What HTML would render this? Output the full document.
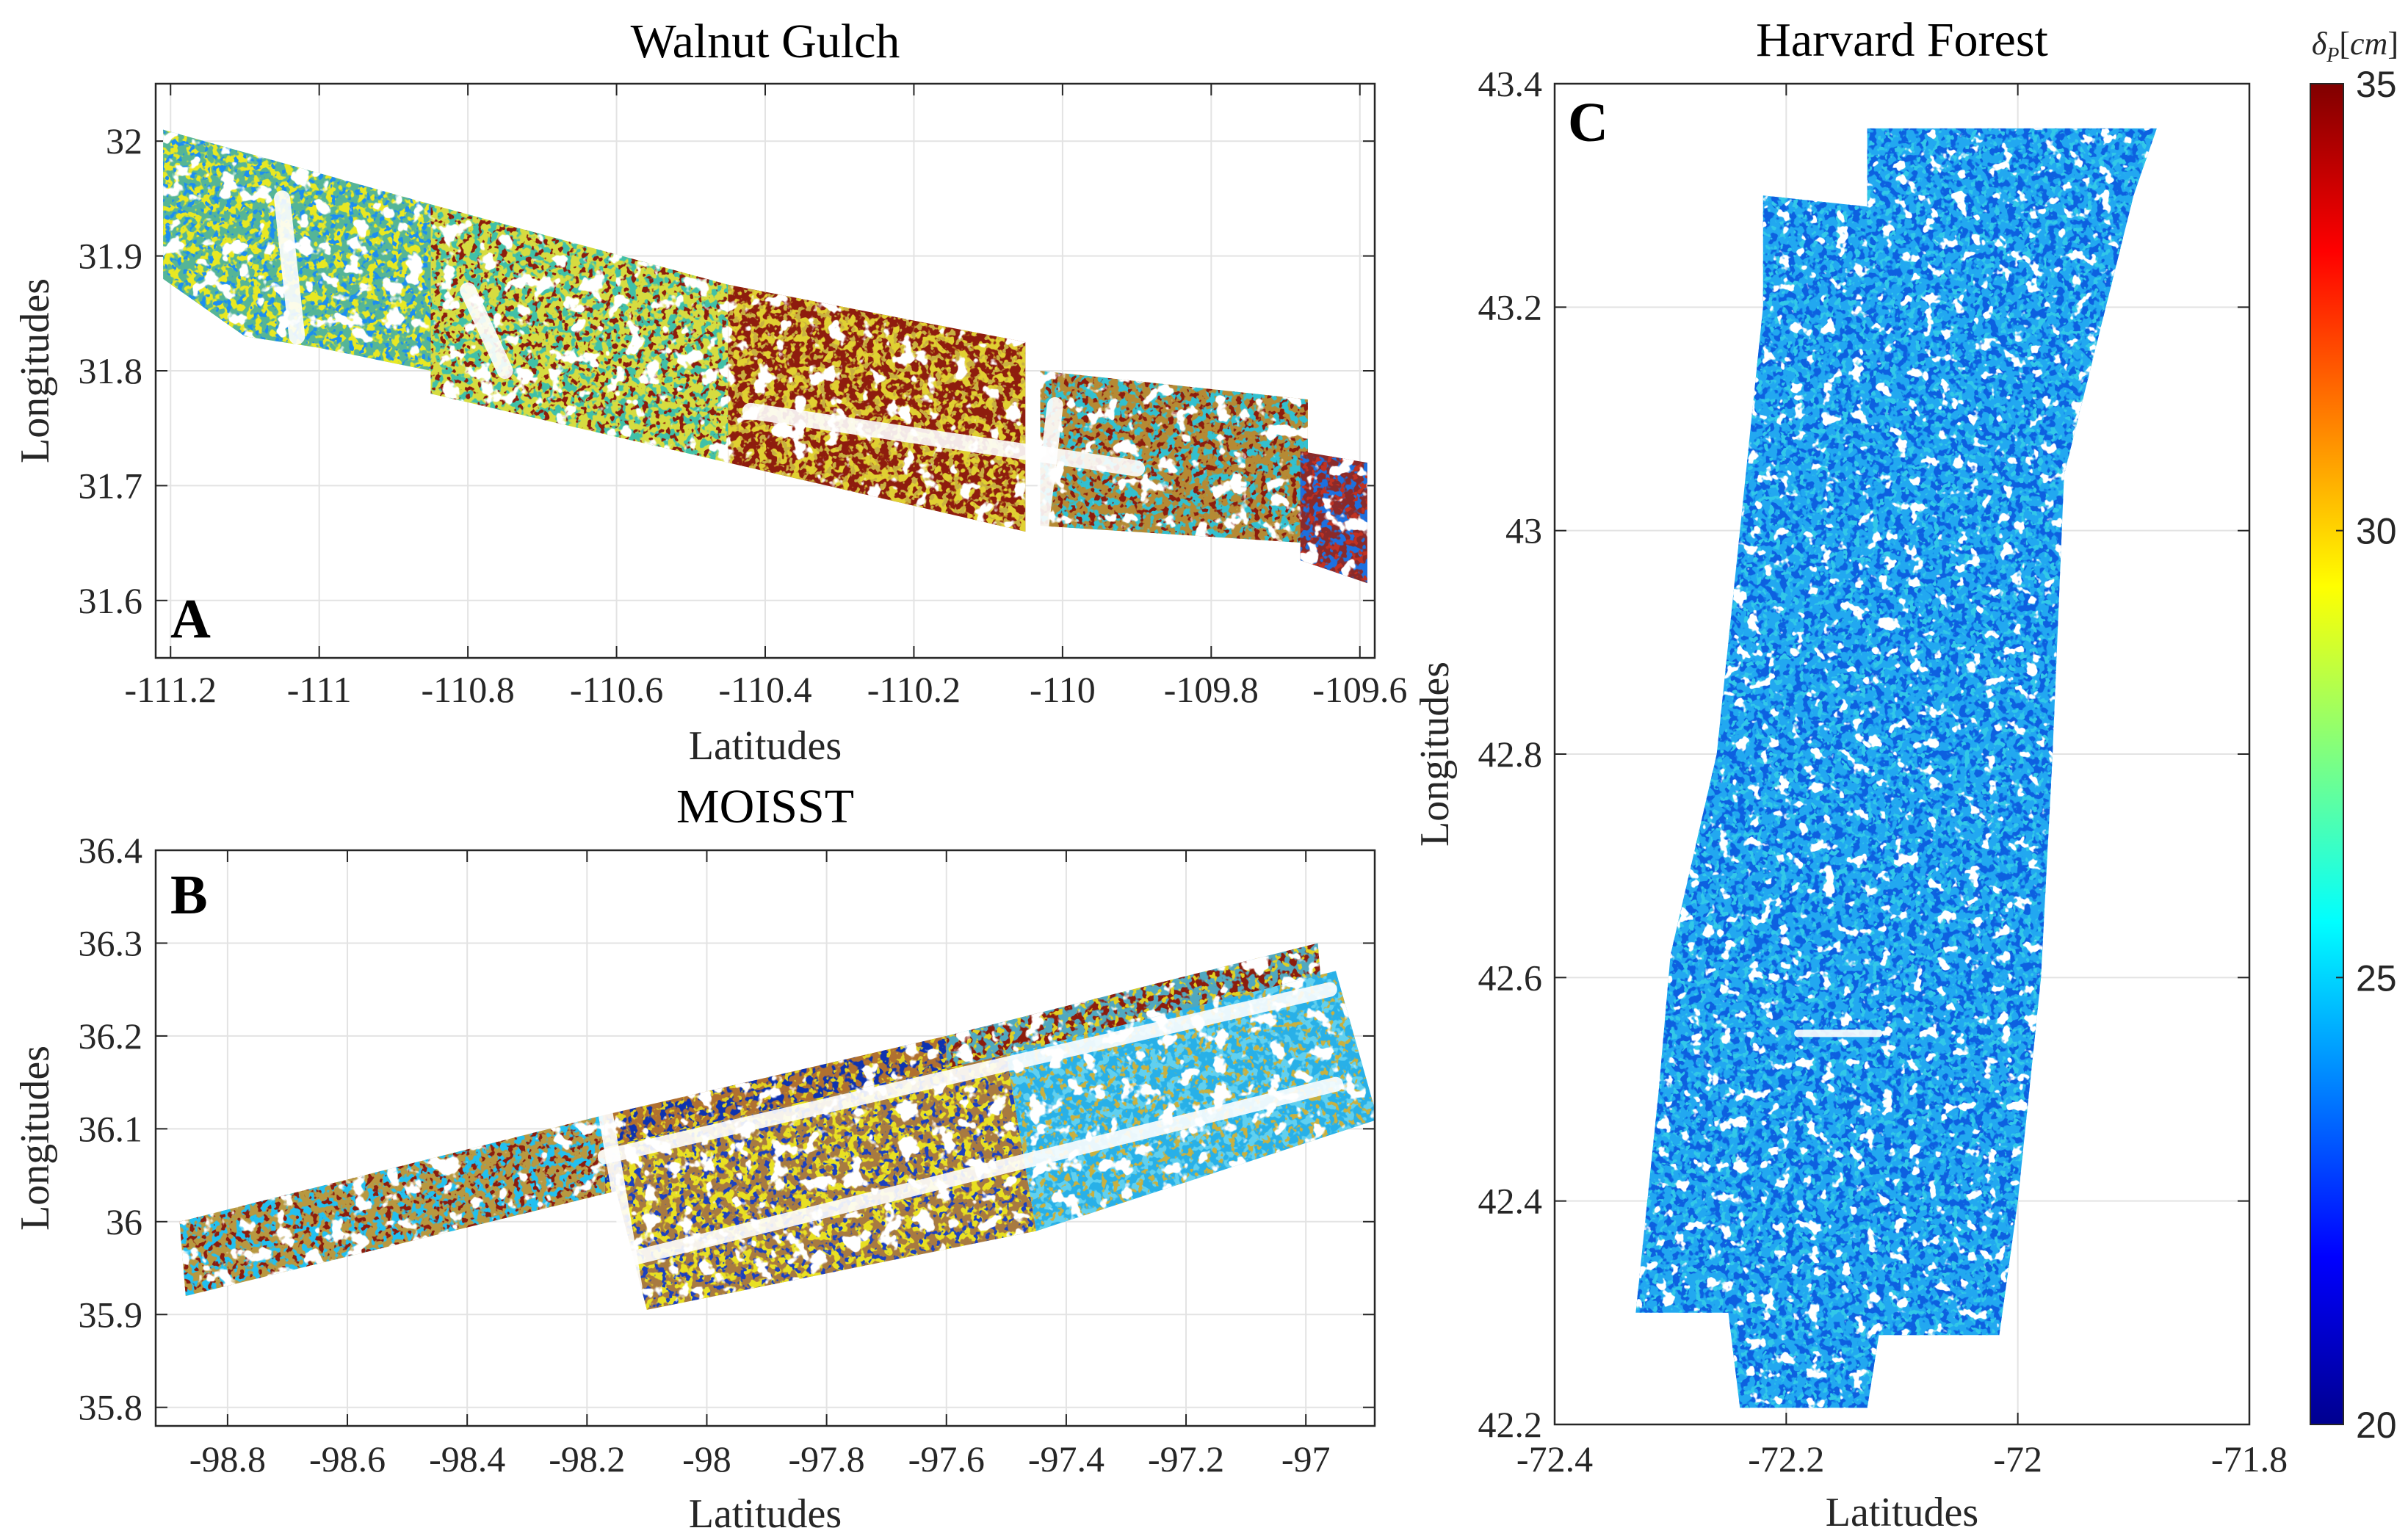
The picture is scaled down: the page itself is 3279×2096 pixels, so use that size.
<!DOCTYPE html>
<html><head><meta charset="utf-8"><style>
html,body{margin:0;padding:0;background:#fff}
svg{display:block}
.tk{font-family:"Liberation Serif",serif;font-size:50px;fill:#262626}
.ttl{font-family:"Liberation Serif",serif;font-size:66px;fill:#000}
.lab{font-family:"Liberation Serif",serif;font-size:56px;fill:#262626}
.let{font-family:"Liberation Serif",serif;font-size:76px;font-weight:bold;fill:#000}
.cb{font-family:"Liberation Sans",sans-serif;font-size:50px;fill:#262626}
</style></head><body>
<svg id="fig" width="3279" height="2096" viewBox="0 0 3279 2096" xmlns="http://www.w3.org/2000/svg">
<defs>
<filter id="sp1" filterUnits="userSpaceOnUse" x="0" y="0" width="3279" height="2096"><feTurbulence type="fractalNoise" baseFrequency="0.09" numOctaves="2" seed="3" result="n"/><feColorMatrix in="n" type="matrix" values="0 0 0 0 0 0 0 0 0 0 0 0 0 0 0 14 0 0 0 -7" result="m"/><feComposite in="SourceGraphic" in2="m" operator="in"/></filter>
<filter id="sp2" filterUnits="userSpaceOnUse" x="0" y="0" width="3279" height="2096"><feTurbulence type="fractalNoise" baseFrequency="0.12" numOctaves="2" seed="9" result="n"/><feColorMatrix in="n" type="matrix" values="0 0 0 0 0 0 0 0 0 0 0 0 0 0 0 14 0 0 0 -8" result="m"/><feComposite in="SourceGraphic" in2="m" operator="in"/></filter>
<filter id="hol" filterUnits="userSpaceOnUse" x="0" y="0" width="3279" height="2096"><feTurbulence type="fractalNoise" baseFrequency="0.04" numOctaves="3" seed="17" result="n"/><feColorMatrix in="n" type="matrix" values="0 0 0 0 0 0 0 0 0 0 0 0 0 0 0 16 0 0 0 -9.6" result="m"/><feComposite in="SourceGraphic" in2="m" operator="in"/></filter>
<filter id="hol2" filterUnits="userSpaceOnUse" x="0" y="0" width="3279" height="2096"><feTurbulence type="fractalNoise" baseFrequency="0.05" numOctaves="3" seed="23" result="n"/><feColorMatrix in="n" type="matrix" values="0 0 0 0 0 0 0 0 0 0 0 0 0 0 0 18 0 0 0 -11.5" result="m"/><feComposite in="SourceGraphic" in2="m" operator="in"/></filter>
<linearGradient id="jet" x1="0" y1="0" x2="0" y2="1">
<stop offset="0" stop-color="#800000"/><stop offset="0.125" stop-color="#ff0000"/><stop offset="0.375" stop-color="#ffff00"/><stop offset="0.625" stop-color="#00ffff"/><stop offset="0.875" stop-color="#0000ff"/><stop offset="1" stop-color="#00008f"/>
</linearGradient>
</defs>
</svg>
<script>
// ---------- data ----------
const aXTicks=[-111.2,-111,-110.8,-110.6,-110.4,-110.2,-110,-109.8,-109.6];
const aYTicks=[31.6,31.7,31.8,31.9,32];
const bXTicks=[-98.8,-98.6,-98.4,-98.2,-98,-97.8,-97.6,-97.4,-97.2,-97];
const bYTicks=[35.8,35.9,36,36.1,36.2,36.3,36.4];
const cXTicks=[-72.4,-72.2,-72,-71.8];
const cYTicks=[42.2,42.4,42.6,42.8,43,43.2,43.4];
const cbTicks=[20,25,30,35];
const aPatches=[
 [[-111.21,32.01],[-110.85,31.945],[-110.85,31.80],[-111.0,31.82],[-111.1,31.83],[-111.21,31.88]],
 [[-110.85,31.945],[-110.45,31.875],[-110.45,31.72],[-110.85,31.78]],
 [[-110.45,31.875],[-110.05,31.825],[-110.05,31.66],[-110.45,31.72]],
 [[-110.03,31.80],[-109.67,31.775],[-109.67,31.65],[-110.03,31.665]],
 [[-109.68,31.73],[-109.59,31.72],[-109.59,31.615],[-109.68,31.635]]];
const aBase=["#55b597","#d6dc40","#8e1c0e","#b58a34","#8a2a2a"];
const aSp1=["#e8e820","#40c0a8","#e0d030","#30c0d0","#1a70e0"];
const aSp2=["#1a8ef0","#8c1a10","#c8b040","#8c1a10","#c03020"];
const aGaps=[[[-110.03,31.66],[-110.01,31.77]],[[-110.42,31.765],[-109.9,31.715]],[[-111.05,31.95],[-111.03,31.83]],[[-110.8,31.87],[-110.75,31.80]]];
const bPatches=[
 [[-98.88,36.0],[-98.17,36.115],[-98.17,36.03],[-98.87,35.92]],
 [[-98.17,36.115],[-97.6,36.20],[-97.6,36.12],[-98.17,36.03]],
 [[-97.6,36.20],[-96.98,36.30],[-96.97,36.22],[-97.6,36.12]],
 [[-98.17,36.08],[-97.5,36.18],[-97.45,35.99],[-98.1,35.905]],
 [[-97.5,36.18],[-96.95,36.27],[-96.88,36.11],[-97.45,35.99]]];
const bBase=["#b89840","#b07030","#50a8c0","#a87a40","#28b0e8"];
const bSp1=["#20c0f0","#1030b0","#8c1a10","#e8e020","#60d0f0"];
const bSp2=["#8c1a10","#e0d020","#e0d020","#1a40c0","#c8b040"];
const bGaps=[[[-98.17,36.07],[-96.96,36.25]],[[-98.14,35.958],[-96.95,36.148]],[[-98.17,36.12],[-98.12,35.93]]];
const cPatches=[
 [[-72.13,43.36],[-71.88,43.36],[-71.90,43.30],[-71.96,43.05],[-71.97,42.8],[-71.98,42.6],[-72.0,42.4],[-72.016,42.28],[-72.12,42.28],[-72.13,42.215],[-72.24,42.215],[-72.25,42.30],[-72.33,42.30],[-72.31,42.5],[-72.3,42.62],[-72.26,42.8],[-72.24,43.0],[-72.22,43.2],[-72.22,43.30],[-72.13,43.29]]];
const cBase=["#22a8f0"];
const cSp1=["#0a60e0"];
const cSp2=["#30c8e8"];
const cGaps=[[[-72.19,42.55],[-72.12,42.55]]];

// ---------- helpers ----------
const NS="http://www.w3.org/2000/svg";
const svg=document.getElementById('fig');
function mk(tag,attrs,parent){const e=document.createElementNS(NS,tag);for(const k in attrs)e.setAttribute(k,attrs[k]);(parent||svg).appendChild(e);return e;}
function panel(cfg){
 const {L,R,T,B,x0,x1,y0,y1}=cfg;
 const sx=v=>L+(v-x0)/(x1-x0)*(R-L);
 const sy=v=>B-(v-y0)/(y1-y0)*(B-T);
 const g=mk('g',{});
 
 
 mk('rect',{x:L,y:T,width:R-L,height:B-T,fill:'#fff'},g);
 cfg.xt.forEach(v=>{const x=sx(v);
  const gl=mk('line',{x1:x,y1:T,x2:x,y2:B,stroke:'#e3e3e3','stroke-width':2},g);
  
  
  mk('line',{x1:x,y1:B,x2:x,y2:B-16,stroke:'#262626','stroke-width':2},g);
  mk('line',{x1:x,y1:T,x2:x,y2:T+16,stroke:'#262626','stroke-width':2},g);
  const t=mk('text',{x:x,y:cfg.xly,'text-anchor':'middle','class':'tk'},g);t.textContent=String(v);
  
  });
 cfg.yt.forEach(v=>{const y=sy(v);
  const gl=mk('line',{x1:L,y1:y,x2:R,y2:y,stroke:'#e3e3e3','stroke-width':2},g);
  
  
  mk('line',{x1:L,y1:y,x2:L+16,y2:y,stroke:'#262626','stroke-width':2},g);
  mk('line',{x1:R,y1:y,x2:R-16,y2:y,stroke:'#262626','stroke-width':2},g);
  const t=mk('text',{x:cfg.ylx,y:y+17,'text-anchor':'end','class':'tk'},g);t.textContent=String(v);
  
  });
 const cid='clip'+cfg.name;
 const cp=mk('clipPath',{id:cid},g);mk('rect',{x:L,y:T,width:R-L,height:B-T},cp);
 const dg=mk('g',{'clip-path':'url(#'+cid+')'},g);
 const pts=p=>p.map(q=>sx(q[0]).toFixed(1)+','+sy(q[1]).toFixed(1)).join(' ');
 cfg.patches.forEach((p,i)=>{
  const a=mk('polygon',{points:pts(p),fill:cfg.base[i]},dg);
  
  
  mk('polygon',{points:pts(p),fill:cfg.sp1[i],filter:'url(#sp1)'},dg);
  mk('polygon',{points:pts(p),fill:cfg.sp2[i],filter:'url(#sp2)'},dg);
  mk('polygon',{points:pts(p),fill:'#fff',filter:'url(#'+cfg.hf+')'},dg);
 });
 cfg.gaps.forEach(s=>{const l=mk('line',{x1:sx(s[0][0]),y1:sy(s[0][1]),x2:sx(s[1][0]),y2:sy(s[1][1]),stroke:'#fff','stroke-width':cfg.gw,'stroke-linecap':'round','opacity':0.9},dg);
  
  });
 const fr=mk('rect',{x:L,y:T,width:R-L,height:B-T,fill:'none',stroke:'#262626','stroke-width':2.5},g);
 
 
 const tt=mk('text',{x:(L+R)/2,y:cfg.ty,'text-anchor':'middle','class':'ttl'},g);tt.textContent=cfg.title;
 
 
 const xl=mk('text',{x:(L+R)/2,y:cfg.xlab,'text-anchor':'middle','class':'lab'},g);xl.textContent='Latitudes';
 
 
 const yl=mk('text',{x:0,y:0,'text-anchor':'middle','class':'lab',transform:'translate('+cfg.ylab+','+((T+B)/2)+') rotate(-90)'},g);yl.textContent='Longitudes';
 
 
 const lt=mk('text',{x:cfg.lx,y:cfg.ly,'class':'let'},g);lt.textContent=cfg.letter;
 
 
}
panel({name:'panel-a',L:212,R:1872,T:114,B:896,x0:-111.22,x1:-109.58,y0:31.55,y1:32.05,xt:aXTicks,yt:aYTicks,xly:956,ylx:194,
 patches:aPatches,base:aBase,sp1:aSp1,sp2:aSp2,gaps:aGaps,gw:22,hf:'hol',title:'Walnut Gulch',ty:78,xlab:1034,ylab:66,letter:'A',lx:232,ly:868});
panel({name:'panel-b',L:212,R:1872,T:1158,B:1942,x0:-98.92,x1:-96.885,y0:35.78,y1:36.4,xt:bXTicks,yt:bYTicks,xly:2004,ylx:194,
 patches:bPatches,base:bBase,sp1:bSp1,sp2:bSp2,gaps:bGaps,gw:20,hf:'hol',title:'MOISST',ty:1120,xlab:2080,ylab:66,letter:'B',lx:232,ly:1244});
panel({name:'panel-c',L:2117,R:3063,T:114,B:1940,x0:-72.4,x1:-71.8,y0:42.2,y1:43.4,xt:cXTicks,yt:cYTicks,xly:2004,ylx:2100,
 patches:cPatches,base:cBase,sp1:cSp1,sp2:cSp2,gaps:cGaps,gw:10,hf:'hol2',title:'Harvard Forest',ty:76,xlab:2078,ylab:1972,letter:'C',lx:2135,ly:192});
// colorbar
const cbT=114,cbB=1940,cbL=3146,cbR=3191,cmin=20,cmax=35;
const cby=v=>cbB-(v-cmin)/(cmax-cmin)*(cbB-cbT);
const cbr=mk('rect',{x:cbL,y:cbT,width:cbR-cbL,height:cbB-cbT,fill:'url(#jet)',stroke:'#262626','stroke-width':2});


cbTicks.forEach(v=>{const y=cby(v);
 mk('line',{x1:cbR,y1:y,x2:cbR-10,y2:y,stroke:'#262626','stroke-width':2});
 const t=mk('text',{x:3208,y:y+18,'class':'cb'});t.textContent=String(v);
 
 });
const ct=mk('text',{x:3266,y:74,'text-anchor':'end','font-family':'Liberation Serif, serif','font-size':'44','fill':'#262626'});


ct.innerHTML='<tspan font-style="italic">δ</tspan><tspan font-style="italic" font-size="28" dy="10">P</tspan><tspan dy="-10">[</tspan><tspan font-style="italic">cm</tspan><tspan>]</tspan>';
</script>
</body></html>
